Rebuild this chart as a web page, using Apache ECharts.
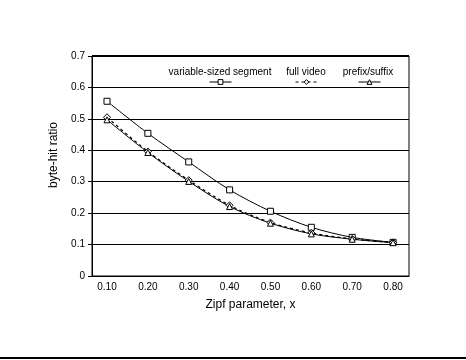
<!DOCTYPE html>
<html>
<head>
<meta charset="utf-8">
<script src="https://cdn.jsdelivr.net/npm/echarts@6/dist/echarts.min.js"></script>
<style>html,body{margin:0;padding:0;background:#fff}#c{width:466px;height:360px}</style>
</head>
<body>
<div id="c"></div>
<script>
const zipf = [0.10, 0.20, 0.30, 0.40, 0.50, 0.60, 0.70, 0.80];
const xTickLabels = ['0.10','0.20','0.30','0.40','0.50','0.60','0.70','0.80'];
const variableSized = [0.556, 0.454, 0.363, 0.274, 0.206, 0.155, 0.123, 0.107];
const fullVideo = [0.505, 0.396, 0.305, 0.225, 0.170, 0.137, 0.118, 0.107];
const prefixSuffix = [0.497, 0.393, 0.301, 0.221, 0.168, 0.134, 0.117, 0.106];
const seriesNames = ['variable-sized segment', 'full video', 'prefix/suffix'];

const pairs = arr => arr.map((v, i) => [zipf[i], v]);
const F = 'Liberation Sans, Arial, sans-serif';

const chart = echarts.init(document.getElementById('c'), null, {renderer: 'canvas'});
const base = {
  type: 'line', smooth: 0.3, symbolSize: 6,
  itemStyle: {color: '#fff', borderColor: '#000', borderWidth: 1},
  lineStyle: {color: '#000', width: 1},
  emphasis: {disabled: true}, animation: false
};
const legendAt = (name, cx) => ({
  data: [name], left: cx - 11, top: 79, padding: 0,
  itemWidth: 22, itemHeight: 6, formatter: () => '',
  selectedMode: false,
  lineStyle: {width: 1, color: '#000'},
  itemStyle: {color: '#fff', borderColor: '#000', borderWidth: 1}
});
chart.setOption({
  backgroundColor: '#fff',
  animation: false,
  grid: {left: 92, right: 57, top: 56, bottom: 84, show: true, borderColor: '#000', borderWidth: 1},
  xAxis: {
    type: 'value', min: 0.0633, max: 0.839,
    name: 'Zipf parameter, x', nameLocation: 'middle', nameGap: 23,
    nameTextStyle: {fontFamily: F, fontSize: 12, color: '#000'},
    axisLine: {show: true, lineStyle: {color: '#000', width: 1}},
    axisTick: {show: false},
    splitLine: {show: false},
    axisLabel: {
      customValues: zipf, fontFamily: F, fontSize: 10, color: '#000', margin: 6,
      formatter: v => xTickLabels[zipf.findIndex(z => Math.abs(z - v) < 1e-6)] || ''
    }
  },
  yAxis: {
    type: 'value', min: 0, max: 0.7, interval: 0.1,
    name: 'byte-hit ratio', nameLocation: 'middle', nameGap: 32,
    nameTextStyle: {fontFamily: F, fontSize: 12, color: '#000', padding: [0, 0, 0, 22]},
    axisLine: {show: true, lineStyle: {color: '#000', width: 1}},
    axisTick: {show: true, length: 4, lineStyle: {color: '#000'}},
    splitLine: {show: true, lineStyle: {color: '#000', width: 1}},
    axisLabel: {fontFamily: F, fontSize: 10, color: '#000', margin: 7,
      formatter: v => v === 0 ? '0' : v.toFixed(1)}
  },
  legend: [legendAt(seriesNames[0], 220), legendAt(seriesNames[1], 306), legendAt(seriesNames[2], 369)],
  graphic: [
    {type: 'text', style: {text: seriesNames[0], x: 220, y: 72, align: 'center', verticalAlign: 'middle', font: '10px ' + F, fill: '#000'}},
    {type: 'text', style: {text: seriesNames[1], x: 306, y: 72, align: 'center', verticalAlign: 'middle', font: '10px ' + F, fill: '#000'}},
    {type: 'text', style: {text: seriesNames[2], x: 368, y: 72, align: 'center', verticalAlign: 'middle', font: '10px ' + F, fill: '#000'}},
    {type: 'rect', shape: {x: 0, y: 357, width: 466, height: 2}, style: {fill: '#000'}},
    {type: 'rect', shape: {x: 92, y: 55, width: 317, height: 2}, style: {fill: '#000'}}
  ],
  series: [
    Object.assign({}, base, {name: seriesNames[0], symbol: 'rect', data: pairs(variableSized)}),
    Object.assign({}, base, {name: seriesNames[1], symbol: 'diamond', symbolSize: 7,
      lineStyle: {color: '#000', width: 1.2, type: [3, 3]}, data: pairs(fullVideo)}),
    Object.assign({}, base, {name: seriesNames[2], symbol: 'triangle', data: pairs(prefixSuffix)})
  ]
});
</script>
</body>
</html>
